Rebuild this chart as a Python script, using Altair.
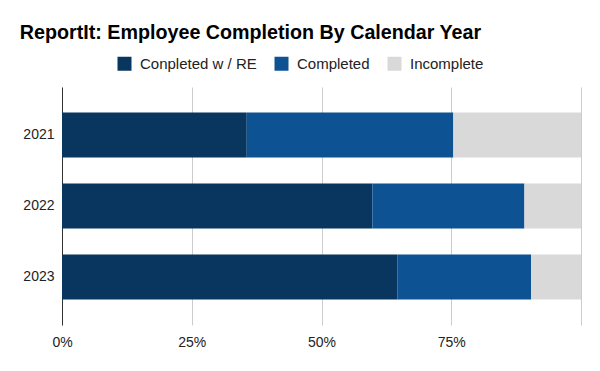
import altair as alt
import pandas as pd

years = ["2021", "2022", "2023"]
series = ["Conpleted w / RE", "Completed", "Incomplete"]
completed_re = [0.356, 0.598, 0.646]
completed = [0.398, 0.293, 0.258]
incomplete = [0.246, 0.109, 0.096]
colors = ["#08365F", "#0D5394", "#D9D9D9"]

rows = []
for i, y in enumerate(years):
    for j, (s, vals) in enumerate(zip(series, [completed_re, completed, incomplete])):
        rows.append({"year": y, "series": s, "value": vals[i], "order": j})
df = pd.DataFrame(rows)

FONT = "Liberation Sans"

chart = alt.Chart(df).mark_bar().encode(
    y=alt.Y("year:N", sort=years, title=None,
            scale=alt.Scale(paddingInner=0.366, paddingOuter=0.36),
            axis=alt.Axis(domain=True, domainColor="#333333", ticks=False,
                          labelPadding=8, labelFontSize=14, labelColor="#222222",
                          labelFont=FONT)),
    x=alt.X("value:Q", stack="zero", title=None,
            scale=alt.Scale(domain=[0, 1], nice=False),
            axis=alt.Axis(values=[0, 0.25, 0.5, 0.75, 1], format="%",
                          labelExpr="datum.value >= 1 ? '' : format(datum.value, '.0%')",
                          labelFlush=False,
                          domain=False, ticks=False, grid=True, gridColor="#CCCCCC",
                          labelPadding=10, labelFontSize=14, labelColor="#222222",
                          labelFont=FONT)),
    color=alt.Color("series:N", sort=series,
                    scale=alt.Scale(domain=series, range=colors),
                    legend=alt.Legend(orient="none", direction="horizontal",
                                      legendX=55, legendY=-31, title=None,
                                      symbolType="square", symbolSize=196,
                                      symbolStrokeWidth=0, labelFontSize=15,
                                      labelFont=FONT, labelColor="#222222",
                                      labelOffset=8, columnPadding=17)),
    order=alt.Order("order:Q"),
).properties(
    width=519,
    height=238,
    padding={"left": 54, "top": 79, "right": 11, "bottom": 30},
    autosize=alt.AutoSizeParams(type="none"),
    title=alt.TitleParams("ReportIt: Employee Completion By Calendar Year",
                          anchor="start", fontSize=19.7, font=FONT, fontWeight="bold",
                          color="#000000", dx=-3, offset=13),
).configure_view(stroke=None)

chart.save("out.html", embed_options={"renderer": "svg", "actions": False})
